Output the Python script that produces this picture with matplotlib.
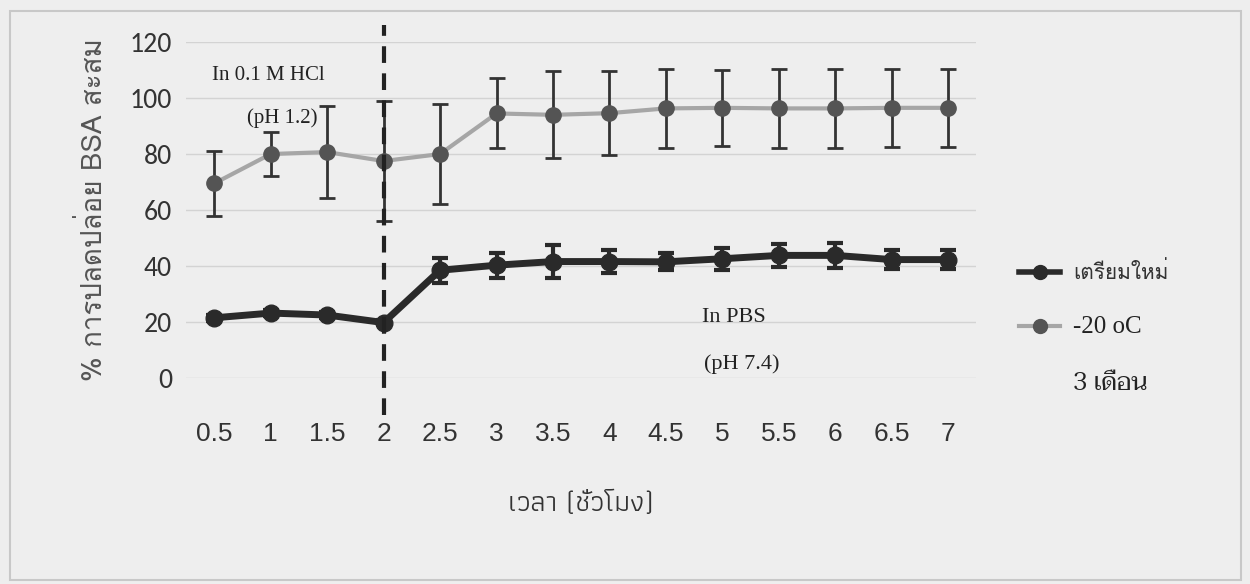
import matplotlib
matplotlib.use('Agg')
import matplotlib.pyplot as plt
from matplotlib.lines import Line2D
from matplotlib.patches import Rectangle

# ข้อมูล
hours = ['0.5', '1', '1.5', '2', '2.5', '3', '3.5', '4', '4.5', '5', '5.5', '6', '6.5', '7']
fresh = [21.5, 23.2, 22.5, 19.8, 38.5, 40.3, 41.6, 41.6, 41.5, 42.6, 43.8, 43.8, 42.3, 42.3]
fresh_err = [1.0, 1.0, 1.0, 1.0, 4.5, 4.5, 6.0, 4.0, 3.0, 4.0, 4.0, 4.5, 3.5, 3.5]
frozen = [69.5, 80.0, 80.7, 77.5, 80.0, 94.5, 94.0, 94.6, 96.3, 96.5, 96.3, 96.3, 96.5, 96.5]
frozen_err = [11.5, 8.0, 16.5, 21.5, 18.0, 12.5, 15.5, 15.0, 14.0, 13.5, 14.0, 14.0, 14.0, 14.0]
labels = ['เตรียมใหม่', '-20 oC', '3 เดือน']
switch_idx = 3  # เปลี่ยนจาก HCl เป็น PBS ที่ 2 ชั่วโมง

plt.rcParams['font.family'] = ['Loma', 'DejaVu Sans']

fig = plt.figure(figsize=(12.5, 5.84), dpi=100)
bg = '#eeeeee'
fig.patch.set_facecolor(bg)
ax = fig.add_axes([0.1488, 0.3527, 0.6324, 0.5753])
ax.set_facecolor(bg)

x = list(range(len(hours)))
ax.errorbar(x, frozen, yerr=frozen_err, color='#a6a6a6', lw=3,
            marker='o', ms=11, mfc='#545454', mec='#545454',
            ecolor='#333333', elinewidth=2, capsize=6, capthick=2, zorder=3)
ax.errorbar(x, fresh, yerr=fresh_err, color='#2a2a2a', lw=5,
            marker='o', ms=12, mfc='#2a2a2a', mec='#2a2a2a',
            ecolor='#2a2a2a', elinewidth=3, capsize=6, capthick=3, zorder=4)

ax.set_ylim(0, 120)
ax.set_xlim(-0.5, len(hours) - 0.5)
ax.set_yticks(range(0, 121, 20))
ax.set_xticks(x)
ax.set_xticklabels(hours)
ax.yaxis.grid(True, color='#d3d3d3', lw=1)
ax.set_axisbelow(True)
for s in ax.spines.values():
    s.set_visible(False)
ax.tick_params(length=0, colors='#333333')
ax.tick_params(axis='x', pad=32, labelsize=19)
ax.tick_params(axis='y', pad=10, labelsize=20)
for t in ax.get_xticklabels():
    t.set_family(['Liberation Sans Narrow', 'Liberation Sans'])
for t in ax.get_yticklabels():
    t.set_family(['Carlito', 'DejaVu Sans'])

ax.axvline(switch_idx, ymin=-0.11, ymax=1.05, color='#222222', lw=3,
           ls=(0, (4, 2.5)), clip_on=False, zorder=5)

serif = 'Liberation Serif'
ax.text(0.96, 108, 'In 0.1 M HCl', family=serif, fontsize=15, color='#222222', ha='center', va='center')
ax.text(1.2, 93, '(pH 1.2)', family=serif, fontsize=15, color='#222222', ha='center', va='center')
ax.text(9.2, 21.5, 'In PBS', family=serif, fontsize=16, color='#222222', ha='center', va='center')
ax.text(9.35, 5, '(pH 7.4)', family=serif, fontsize=16, color='#222222', ha='center', va='center')

ax.set_ylabel('% การปลดปล่อย BSA สะสม', fontsize=20, color='#555555', labelpad=16)
ax.set_xlabel('เวลา (ชั่วโมง)', fontsize=21, color='#333333', labelpad=32,
              family=['Athiti', 'DejaVu Sans'])

handles = [Line2D([], [], color='#2a2a2a', lw=4, marker='o', ms=10),
           Line2D([], [], color='#a6a6a6', lw=3, marker='o', ms=10, mfc='#545454', mec='#545454'),
           Line2D([], [], color='none')]
leg = fig.legend(handles, labels, loc='upper left', bbox_to_anchor=(0.8, 0.585),
                 frameon=False, fontsize=15, handlelength=2.0, handletextpad=0.6,
                 labelspacing=1.6)
lt = leg.get_texts()
lt[0].set_color('#333333')
lt[1].set_family(serif)
lt[1].set_fontsize(18)
lt[1].set_color('#222222')
lt[2].set_family(['Taviraj', 'Liberation Serif'])
lt[2].set_fontsize(18)
lt[2].set_color('#222222')

fig.patches.append(Rectangle((0.008, 0.007), 0.985, 0.975, transform=fig.transFigure,
                             fill=False, edgecolor='#c8c8c8', lw=1.5))

fig.savefig('out.png', dpi=100, facecolor=bg)
